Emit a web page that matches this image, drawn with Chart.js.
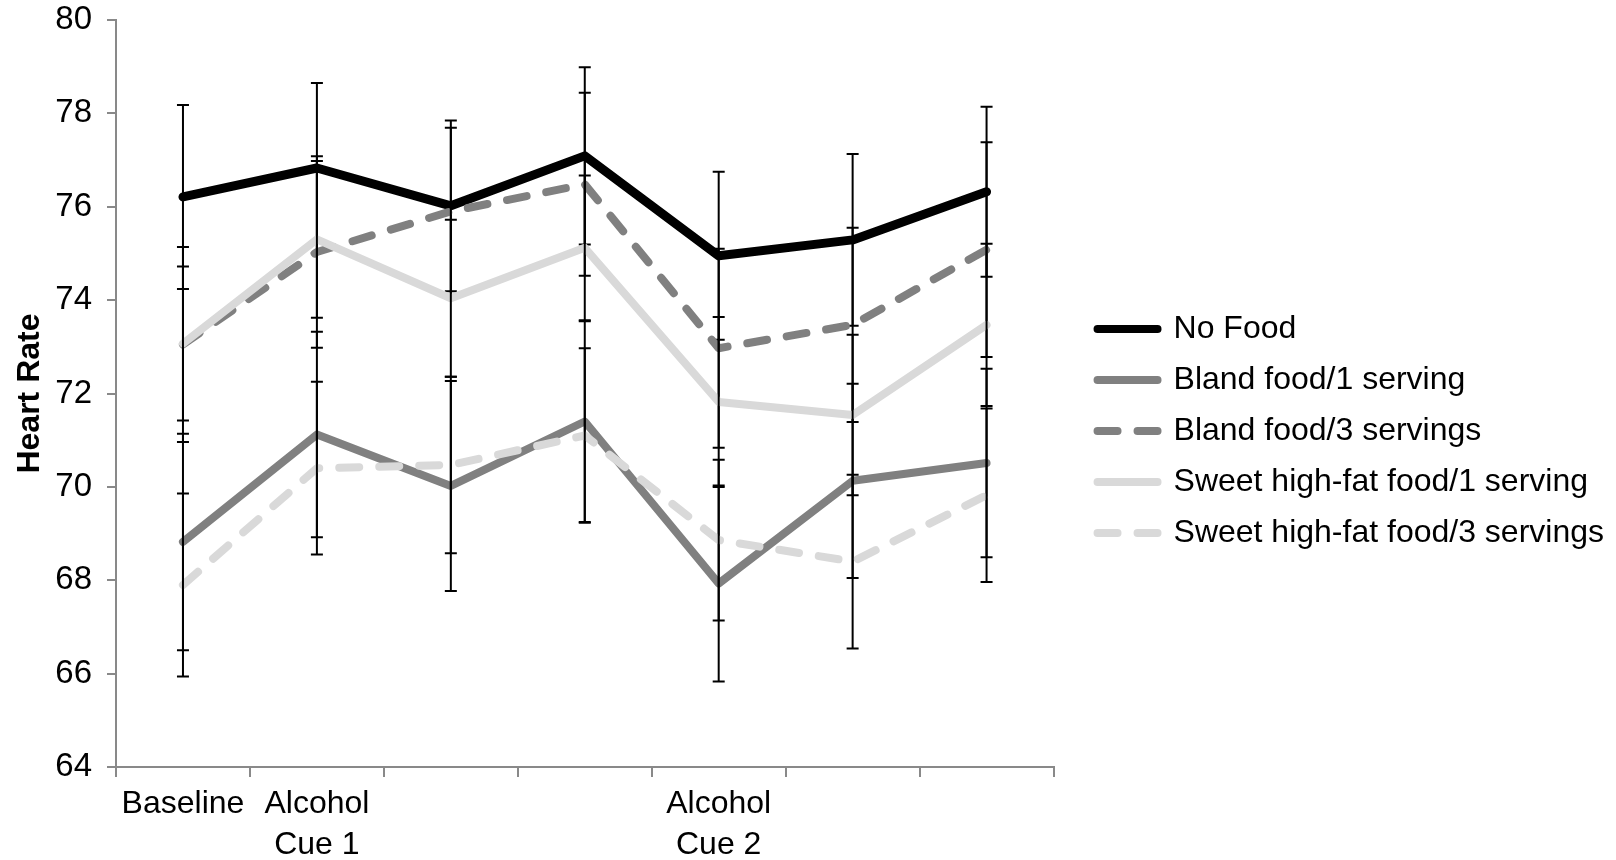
<!DOCTYPE html>
<html>
<head>
<meta charset="utf-8">
<script src="https://cdn.jsdelivr.net/npm/chart.js@4.4.1/dist/chart.umd.min.js"></script>
<style>
html,body{margin:0;padding:0;background:#fff;}
#wrap{width:1616px;height:860px;position:relative;}
</style>
</head>
<body>
<div id="wrap"><canvas id="c"></canvas></div>
<script>
// ---- data ----
const categories = ['Baseline', ['Alcohol', 'Cue 1'], '', '', ['Alcohol', 'Cue 2'], '', ''];
const seriesNames = ['No Food', 'Bland food/1 serving', 'Bland food/3 servings', 'Sweet high-fat food/1 serving', 'Sweet high-fat food/3 servings'];

const noFood      = [76.21, 76.83, 76.02, 77.09, 74.95, 75.29, 76.32];
const bland1      = [68.82, 71.12, 70.02, 71.40, 67.93, 70.13, 70.51];
const bland3      = [73.05, 75.03, 75.90, 76.48, 72.97, 73.47, 75.08];
const sweet1      = [73.07, 75.30, 74.04, 75.12, 71.82, 71.54, 73.47];
const sweet3      = [67.90, 70.40, 70.47, 71.10, 68.86, 68.40, 69.82];

const noFoodErr   = [1.97, 1.82, 1.83, 1.90, 1.80, 1.84, 1.82];
const bland1Err   = [2.32, 2.20, 2.25, 2.15, 2.10, 2.08, 2.02];
const bland3Err   = [2.09, 2.05, 1.79, 1.96, 2.13, 2.08, 2.30];
const sweet1Err   = [1.65, 1.68, 1.68, 1.55, 1.82, 1.72, 1.74];
const sweet3Err   = [1.96, 1.85, 1.89, 1.87, 1.72, 1.86, 1.86];

const yMin = 64, yMax = 80, yStep = 2;

// ---- styling ----
const FONT = "'Liberation Sans', Arial, Helvetica, sans-serif";
const AXIS_GRAY = '#898989';
const errorSets = [noFoodErr, bland1Err, bland3Err, sweet1Err, sweet3Err];

const errorBarPlugin = {
  id: 'errorBars',
  afterDatasetDraw(chart, args) {
    const errs = errorSets[args.index];
    if (!errs) return;
    const ds = chart.data.datasets[args.index];
    const yScale = chart.scales.y;
    const ctx = chart.ctx;
    ctx.save();
    ctx.strokeStyle = '#000';
    ctx.lineWidth = 2;
    ctx.lineCap = 'butt';
    ctx.setLineDash([]);
    args.meta.data.forEach((pt, i) => {
      const v = ds.data[i], e = errs[i];
      const x = pt.x;
      const yt = yScale.getPixelForValue(v + e);
      const yb = yScale.getPixelForValue(v - e);
      ctx.beginPath();
      ctx.moveTo(x, yt); ctx.lineTo(x, yb);
      ctx.moveTo(x - 6, yt); ctx.lineTo(x + 6, yt);
      ctx.moveTo(x - 6, yb); ctx.lineTo(x + 6, yb);
      ctx.stroke();
    });
    ctx.restore();
  }
};

// let the two-line category labels use the full height below the axis
const labelRoomPlugin = {
  id: 'labelRoom',
  afterLayout(chart) {
    if (chart.scales.x) chart.scales.x.bottom = chart.height;
  }
};

function mk(label, data, color, width, dash, order) {
  return {
    label, data,
    borderColor: color, backgroundColor: color,
    borderWidth: width, borderDash: dash,
    borderCapStyle: 'round', borderJoinStyle: 'round',
    pointRadius: 0, pointHoverRadius: 0, tension: 0, fill: false,
    order
  };
}

const datasets = [
  mk(seriesNames[0], noFood, '#000000', 9, [], 5),
  mk(seriesNames[1], bland1, '#808080', 8, [], 4),
  mk(seriesNames[2], bland3, '#808080', 8, [20, 20], 3),
  mk(seriesNames[3], sweet1, '#d9d9d9', 8, [], 2),
  mk(seriesNames[4], sweet3, '#d9d9d9', 8, [20, 20], 1)
];

new Chart(document.getElementById('c'), {
  type: 'line',
  data: { labels: categories, datasets },
  plugins: [errorBarPlugin, labelRoomPlugin],
  options: {
    responsive: true,
    maintainAspectRatio: false,
    animation: false,
    devicePixelRatio: 1,
    layout: { padding: { top: 20, left: 0, right: 2, bottom: 18 } },
    plugins: {
      tooltip: { enabled: false },
      legend: {
        position: 'right',
        align: 'center',
        maxWidth: 600,
        labels: {
          usePointStyle: true,
          pointStyle: 'line',
          pointStyleWidth: 60,
          padding: 19,
          color: '#000',
          font: { family: FONT, size: 32 },
          generateLabels(chart) {
            return chart.data.datasets.map((ds, i) => ({
              text: ds.label,
              fillStyle: ds.borderColor,
              strokeStyle: ds.borderColor,
              lineWidth: 8,
              lineDash: ds.borderDash,
              lineDashOffset: 0,
              lineCap: 'round',
              lineJoin: 'round',
              pointStyle: 'line',
              fontColor: '#000',
              hidden: false,
              datasetIndex: i
            }));
          }
        }
      }
    },
    scales: {
      x: {
        type: 'category',
        offset: true,
        grid: { offset: true, drawOnChartArea: false, drawTicks: true, tickLength: 10, color: AXIS_GRAY, lineWidth: 2 },
        border: { display: true, color: AXIS_GRAY, width: 2 },
        ticks: { color: '#000', autoSkip: false, maxRotation: 0, minRotation: 0, padding: 7,
                 font: { family: FONT, size: 32, lineHeight: 1.27 } },
        afterFit(s) { s.height = 75; s.paddingLeft = 0; s.paddingRight = 0; }
      },
      y: {
        min: yMin, max: yMax,
        grid: { drawOnChartArea: false, drawTicks: true, tickLength: 9, color: AXIS_GRAY, lineWidth: 2 },
        border: { display: true, color: AXIS_GRAY, width: 2 },
        ticks: { stepSize: yStep, color: '#000', padding: 15, font: { family: FONT, size: 33 } },
        title: { display: true, text: 'Heart Rate', color: '#000', padding: { top: 11, bottom: 0 },
                 font: { family: FONT, size: 32, weight: 'bold' } },
        afterFit(s) { s.width = 116; s.paddingTop = 0; s.paddingBottom = 0; }
      },
      gap: {
        type: 'linear', position: 'right', display: true,
        grid: { display: false }, border: { display: false }, ticks: { display: false },
        afterFit(s) { s.width = 25; }
      }
    }
  }
});
</script>
</body>
</html>
